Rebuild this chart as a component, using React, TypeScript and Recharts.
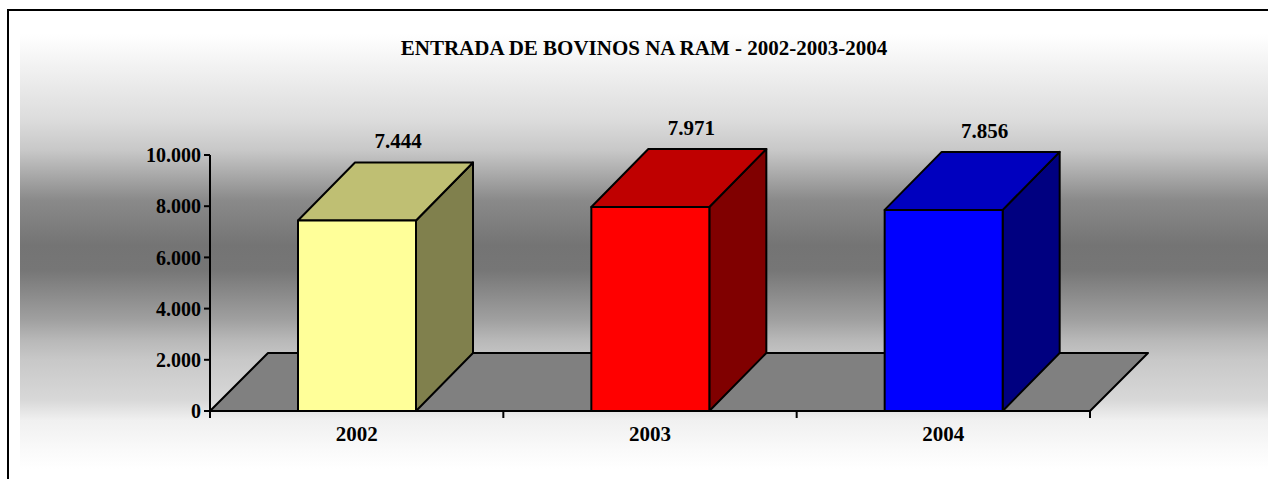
import { Bar, BarChart, ReferenceArea, XAxis, YAxis } from "recharts";

const YEARS = ["2002", "2003", "2004"];
const ENTRIES = [7444, 7971, 7856];
const Y_TICKS = [0, 2000, 4000, 6000, 8000, 10000];

const data = YEARS.map((year, i) => ({ year, value: ENTRIES[i] }));

const FACES = [
  { front: "#ffff99", top: "#bfbf73", side: "#80804d" },
  { front: "#ff0000", top: "#bf0000", side: "#800000" },
  { front: "#0000ff", top: "#0000bf", side: "#000080" }
];

const FONT = "'Liberation Serif', 'Times New Roman', serif";
const DX = 57;
const DY = 58;
const PLOT_W = 880;
const BAND = PLOT_W / YEARS.length;

const fmt = (v: number) => String(v).replace(/\B(?=(\d{3})+(?!\d))/g, ".");

function Box3D(props: any) {
  const { x, y, width: w, height: h, index, value } = props;
  const c = FACES[index % FACES.length];
  const v = Array.isArray(value) ? value[1] : value;
  return (
    <g stroke="#000" strokeWidth={2} strokeLinejoin="round">
      <polygon
        points={`${x + w},${y} ${x + w + DX},${y - DY} ${x + w + DX},${y + h - DY} ${x + w},${y + h}`}
        fill={c.side}
      />
      <polygon
        points={`${x},${y} ${x + DX},${y - DY} ${x + w + DX},${y - DY} ${x + w},${y}`}
        fill={c.top}
      />
      <rect x={x} y={y} width={w} height={h} fill={c.front} />
      <text
        x={x + w / 2 + 41}
        y={y - DY - 14}
        textAnchor="middle"
        stroke="none"
        fill="#000"
        fontFamily={FONT}
        fontWeight="bold"
        fontSize={21}
      >
        {fmt(v)}
      </text>
    </g>
  );
}

function Floor(props: any) {
  const { x, y, width: w, height: h } = props;
  const b = y + h;
  return (
    <polygon
      points={`${x},${b} ${x + w},${b} ${x + w + DX + 1},${b - DY} ${x + DX + 1},${b - DY}`}
      fill="#808080"
      stroke="#000"
      strokeWidth={2}
      strokeLinejoin="round"
    />
  );
}

function XTick(props: any) {
  const { x, y, payload, index } = props;
  const axisY = y - 9;
  const half = BAND / 2;
  return (
    <g>
      <line x1={x - half} x2={x - half} y1={axisY} y2={axisY + 7} stroke="#000" strokeWidth={2} />
      {index === YEARS.length - 1 && (
        <line x1={x + half} x2={x + half} y1={axisY} y2={axisY + 7} stroke="#000" strokeWidth={2} />
      )}
      <text
        x={x}
        y={y + 21}
        textAnchor="middle"
        fill="#000"
        fontFamily={FONT}
        fontWeight="bold"
        fontSize={21}
      >
        {payload.value}
      </text>
    </g>
  );
}

export default function App() {
  return (
    <div
      style={{
        position: "absolute",
        left: 0,
        top: 0,
        width: 1268,
        height: 479,
        overflow: "hidden",
        background: "#fff"
      }}
    >
      <div
        style={{
          position: "absolute",
          left: 20,
          top: 34,
          width: 1260,
          height: 435,
          background:
            "linear-gradient(to bottom, #ffffff 0px, #dcdcdc 86px, #c8c8c8 116px, #8a8a8a 166px, #747474 211px, #767676 236px, #a0a0a0 286px, #b8b8b8 306px, #c8c8c8 326px, #d8d8d8 366px, #f0f0f0 386px, #fafafa 416px, #ffffff 435px)"
        }}
      />
      <div
        style={{
          position: "absolute",
          left: 7,
          top: 9,
          width: 1300,
          height: 520,
          border: "2px solid #000"
        }}
      />
      <div
        style={{
          position: "absolute",
          left: 0,
          top: 36,
          width: 1288,
          textAlign: "center",
          fontFamily: FONT,
          fontWeight: "bold",
          fontSize: 21,
          lineHeight: "24px"
        }}
      >
        ENTRADA DE BOVINOS NA RAM - 2002-2003-2004
      </div>
      <div style={{ position: "absolute", left: 0, top: 0 }}>
        <BarChart
          width={1268}
          height={479}
          data={data}
          margin={{ top: 155, right: 178, bottom: 38, left: 150 }}
          barSize={118}
        >
          <YAxis
            width={60}
            domain={[0, 10000]}
            ticks={Y_TICKS}
            interval={0}
            tickFormatter={fmt}
            axisLine={{ stroke: "#000", strokeWidth: 2 }}
            tickLine={{ stroke: "#000", strokeWidth: 2 }}
            tickSize={6}
            tickMargin={3}
            tick={{ fill: "#000", fontFamily: FONT, fontWeight: "bold", fontSize: 20 }}
          />
          <XAxis
            dataKey="year"
            height={30}
            axisLine={{ stroke: "#000", strokeWidth: 2 }}
            tickLine={false}
            tickSize={7}
            tickMargin={2}
            tick={<XTick />}
            interval={0}
          />
          <ReferenceArea y1={0} y2={10000} shape={<Floor />} ifOverflow="visible" />
          <Bar dataKey="value" shape={<Box3D />} isAnimationActive={false} />
        </BarChart>
      </div>
    </div>
  );
}
